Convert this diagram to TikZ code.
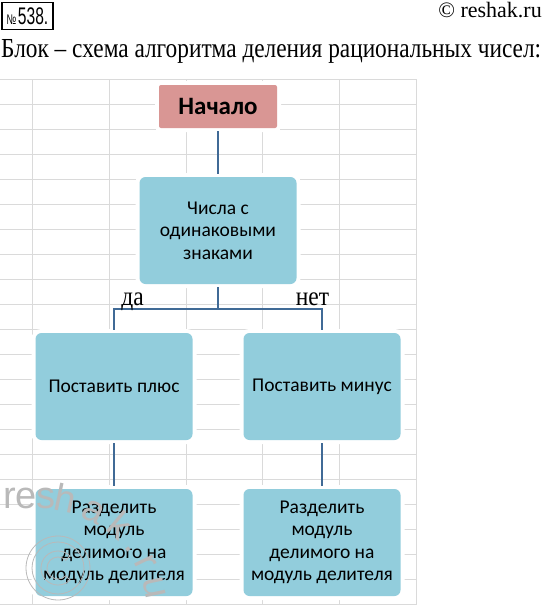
\documentclass[tikz,border=0pt]{standalone}
\usepackage{fontspec}
\setmainfont{Liberation Serif}
\setsansfont{Liberation Sans}
\newfontfamily\boxfont{Carlito}
\usetikzlibrary{decorations.text}
\definecolor{pinkbox}{RGB}{217,150,148}
\definecolor{bluebox}{RGB}{146,205,220}
\definecolor{linkblue}{RGB}{64,106,150}
\definecolor{gridgray}{RGB}{218,218,218}
\def\wmfont{\sffamily\fontsize{38}{38}\selectfont\color{gray!55}}

\begin{document}
\begin{tikzpicture}[x=1pt,y=1pt]
  \tikzset{block/.style={rectangle,rounded corners=6pt,fill=bluebox,minimum width=157pt,minimum height=107pt,
      align=center,font=\boxfont\fontsize{19.5}{22.5}\selectfont,preaction={draw=white,line width=8pt}},
    startbox/.style={block,fill=pinkbox,rounded corners=2pt,minimum width=118pt,minimum height=43pt,
      font=\boxfont\bfseries\fontsize{25}{28}\selectfont},
    link/.style={draw=linkblue,line width=2.8pt,shorten <=3pt,shorten >=3pt},
    gridline/.style={draw=gridgray,line width=0.9pt},
    answer/.style={anchor=base,inner sep=0pt,font=\fontsize{23.5}{26}\selectfont}}
  \useasboundingbox (0,0) rectangle (544,-605);
  \foreach \i in {0,...,21}
    \draw[gridline] (0,-79-25*\i) -- (417,-79-25*\i);
  \foreach \x in {32,109,186,262,339,416}
    \draw[gridline] (\x,-79) -- (\x,-605);
  \node[draw,line width=1.5pt,minimum width=51pt,minimum height=27pt,inner sep=0pt,font=\sffamily] (num) at (27.5,-16)
    {\scalebox{0.65}[1]{\fontsize{14}{14}\selectfont №\,\fontsize{24}{24}\selectfont 538.}};
  \node[anchor=north east,inner sep=0pt,font=\fontsize{22}{26}\selectfont] (site) at (542,-2) {© reshak.ru};
  \node[anchor=base west,inner sep=0pt,font=\fontsize{22}{26}\selectfont] (title) at (1,-57.5)
    {\resizebox{540pt}{!}{\scalebox{1}[1.18]{Блок – схема алгоритма деления рациональных чисел:}}};
  \node[startbox] (start) at (218,-106.5) {Начало};
  \node[block] (cond) at (218,-230.5) {Числа с\\одинаковыми\\знаками};
  \node[block] (plus) at (114,-386.5) {Поставить плюс};
  \node[block] (minus) at (322,-386.5) {Поставить минус};
  \node[block] (divl) at (114,-542.5) {Разделить\\модуль\\делимого на\\модуль делителя};
  \node[block] (divr) at (322,-542.5) {Разделить\\модуль\\делимого на\\модуль делителя};
  \coordinate (fork) at (218,-309);
  \draw[link] (start) -- (cond);
  \draw[link,shorten >=0pt] (cond.south) -- (fork);
  \draw[link] (plus.north) |- (fork) -| (minus.north);
  \draw[link] (plus) -- (divl);
  \draw[link] (minus) -- (divr);
  \node[answer] (yes) at (132.5,-305) {\scalebox{1}[1.15]{да}};
  \node[answer] (no) at (312.5,-305) {\scalebox{1}[1.15]{нет}};
  \path[decorate,decoration={text along path,text={|\wmfont|res}}]
    (3,-508) -- (52,-508);
  \path[decorate,decoration={text along path,text align={fit to path},text={|\wmfont|hak.ru}}]
    (52,-510) .. controls (95,-515) and (140,-545) .. (146,-600);
  \draw[gray!55,line width=0.8pt] (58,-568) circle[radius=32] circle[radius=26];
  \draw[gray!55,line width=0.8pt,shift={(58,-568)}] (45:17) arc[start angle=45,end angle=315,radius=17]
    -- (315:11) arc[start angle=315,end angle=45,radius=11] -- cycle;
\end{tikzpicture}
\end{document}
